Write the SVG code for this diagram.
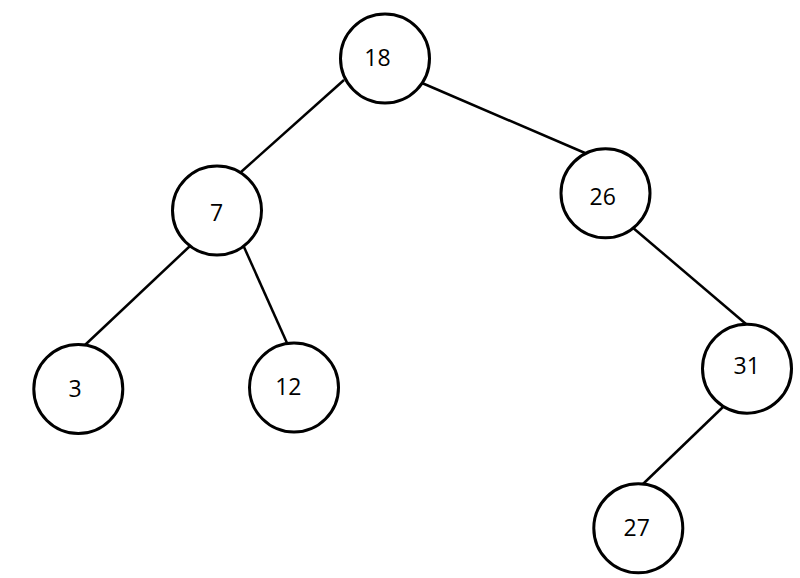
<svg xmlns="http://www.w3.org/2000/svg" width="800" height="578" viewBox="0 0 800 578">
<style>
.n circle{fill:#fff;stroke:#000;stroke-width:3}
.n text{font-family:"Open Sans","Noto Sans","Liberation Sans",sans-serif;font-size:23px;fill:#000;text-anchor:middle}
#edges line{stroke:#000;stroke-width:2.5}
</style>
<rect width="800" height="578" fill="#fff"/>
<g id="edges">
<line x1="344" y1="80" x2="241" y2="172"/>
<line x1="422" y1="83" x2="585" y2="153"/>
<line x1="190" y1="246" x2="85" y2="345"/>
<line x1="244" y1="247" x2="287" y2="343"/>
<line x1="632" y1="227" x2="746" y2="324"/>
<line x1="723" y1="407" x2="643" y2="484"/>
</g>
<g id="n18" class="n"><circle cx="385" cy="58.5" r="44.5"/><text x="377.5" y="66">18</text></g>
<g id="n7" class="n"><circle cx="217" cy="210.5" r="44.5"/><text x="216.7" y="220.5">7</text></g>
<g id="n26" class="n"><circle cx="605.5" cy="193.3" r="44.5"/><text x="602.7" y="205">26</text></g>
<g id="n3" class="n"><circle cx="78.3" cy="389" r="44.5"/><text x="75" y="396.5">3</text></g>
<g id="n12" class="n"><circle cx="294" cy="387.5" r="44.5"/><text x="288.3" y="394.5">12</text></g>
<g id="n31" class="n"><circle cx="747" cy="368.7" r="44.5"/><text x="746.7" y="373.5">31</text></g>
<g id="n27" class="n"><circle cx="638.3" cy="528.3" r="44.5"/><text x="636.7" y="536">27</text></g>
</svg>
